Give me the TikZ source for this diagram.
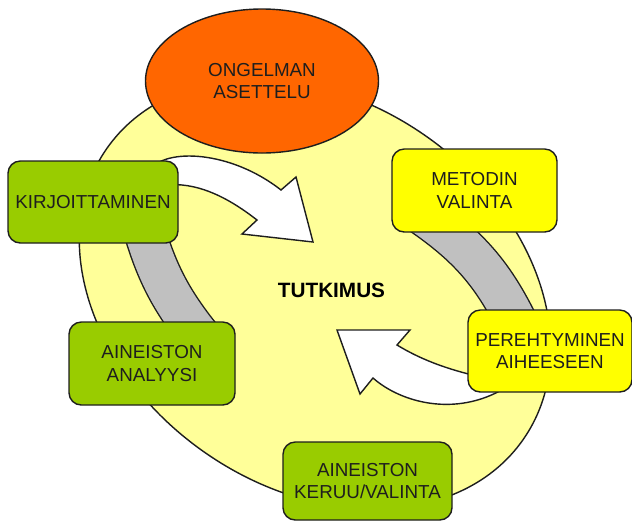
\documentclass[tikz,border=0pt]{standalone}
\usepackage{fontspec}
\setmainfont{Liberation Sans}
\usepackage{xcolor}
\usepackage{tikz}
\usetikzlibrary{shapes.geometric,backgrounds}
\definecolor{tkorange}{RGB}{255,102,0}
\definecolor{tkgreen}{RGB}{153,204,0}
\definecolor{tkyellow}{RGB}{255,255,0}
\definecolor{tklight}{RGB}{255,255,153}
\definecolor{tkgray}{RGB}{192,192,192}
\definecolor{tkdark}{RGB}{30,30,30}
\tikzset{
  tkbox/.style={draw=tkdark, line width=0.8pt, rounded corners=7pt,
    align=center, minimum width=3.32cm, minimum height=1.64cm, inner sep=2pt,
    font=\fontsize{10.7}{12.9}\selectfont, text=tkdark},
  tkband/.style={draw=tkdark, line width=0.8pt, double=tkgray,
    double distance=0.80cm},
  tkarrow/.style={draw=tkdark, line width=0.8pt, fill=white, line join=miter}
}

\begin{document}
\begin{tikzpicture}
  \useasboundingbox (0cm,0cm) rectangle (12.64cm,-10.44cm);
  \node[ellipse, draw=tkdark, line width=0.8pt, fill=tkorange, align=center,
    minimum width=4.66cm, minimum height=2.88cm, inner sep=0pt,
    font=\fontsize{10.7}{12.9}\selectfont, text=tkdark] (pO) at (5.24cm,-1.62cm) {ONGELMAN\\ASETTELU};
  \node[tkbox, fill=tkgreen, minimum width=3.40cm] (pK) at (1.86cm,-4.04cm) {KIRJOITTAMINEN};
  \node[tkbox, fill=tkyellow, minimum width=3.30cm, minimum height=1.66cm] (pM) at (9.49cm,-3.81cm) {METODIN\\VALINTA};
  \node[tkbox, fill=tkyellow, minimum width=3.28cm] (pP) at (11.00cm,-7.02cm) {PEREHTYMINEN\\AIHEESEEN};
  \node[tkbox, fill=tkgreen, minimum height=1.66cm] (pA) at (3.04cm,-7.27cm) {AINEISTON\\ANALYYSI};
  \node[tkbox, fill=tkgreen, minimum width=3.38cm, minimum height=1.56cm] (pV) at (7.35cm,-9.62cm) {AINEISTON\\KERUU/VALINTA};
  \node[font=\fontsize{11.8}{14}\selectfont\bfseries, text=black] (pT) at (6.63cm,-5.80cm) {TUTKIMUS};
  \begin{scope}[on background layer]
    \draw[draw=tkdark, line width=0.8pt, fill=tklight, rotate around={-35:(6.30cm,-5.88cm)}]
      (6.30cm,-5.88cm) ellipse [x radius=5.08cm, y radius=3.86cm];
    \draw[tkband] ([shift={(0.96cm,0.50cm)}]pK.south) to[bend right=12] ([shift={(1.06cm,-0.43cm)}]pA.north);
    \draw[tkband] ([shift={(-1.09cm,0.40cm)}]pM.south) to[bend left=15] ([shift={(-0.60cm,-0.40cm)}]pP.north);
    \draw[tkarrow] (3.00cm,-3.40cm) .. controls (3.30cm,-2.96cm) and (4.60cm,-3.00cm) .. (5.62cm,-3.80cm)
      -- (5.92cm,-3.54cm) -- (6.26cm,-4.84cm) -- (4.84cm,-4.68cm) -- (5.14cm,-4.40cm)
      .. controls (4.50cm,-3.90cm) and (3.90cm,-3.64cm) .. (3.30cm,-3.70cm) -- cycle;
    \draw[tkarrow] (9.90cm,-7.60cm) .. controls (9.10cm,-7.44cm) and (8.50cm,-7.24cm) .. (7.94cm,-6.90cm)
      -- (8.20cm,-6.60cm) -- (6.74cm,-6.60cm) -- (7.20cm,-7.88cm) -- (7.46cm,-7.56cm)
      .. controls (8.00cm,-8.04cm) and (9.10cm,-8.36cm) .. (10.10cm,-7.76cm) -- cycle;
  \end{scope}
\end{tikzpicture}
\end{document}
